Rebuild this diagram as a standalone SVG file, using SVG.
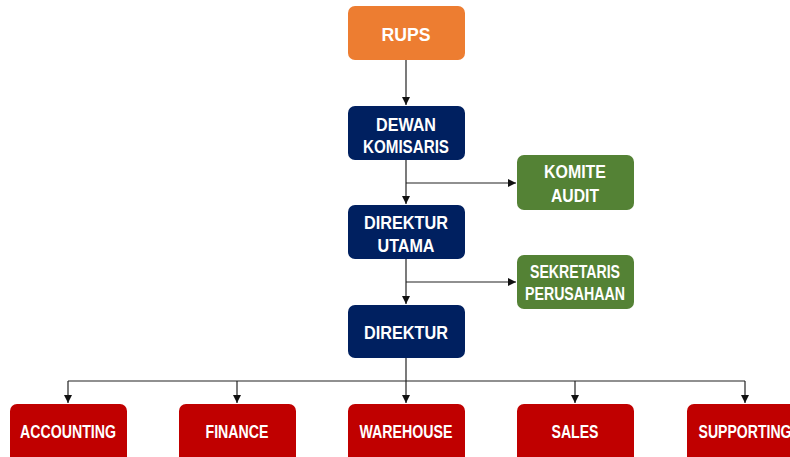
<svg xmlns="http://www.w3.org/2000/svg" width="790" height="457" viewBox="0 0 790 457">
<style>
.t{font-family:"Liberation Sans",Arial,sans-serif;font-weight:bold;font-size:18px;fill:#fff;text-anchor:middle}
.c{fill:none;stroke:#222;stroke-width:1.2}
</style>
<defs>
<marker id="a" viewBox="0 0 10 10" refX="10" refY="5" markerWidth="8" markerHeight="8" markerUnits="userSpaceOnUse" orient="auto">
<path d="M0,0 L10,5 L0,10 z" fill="#111"/>
</marker>
</defs>
<rect width="790" height="457" fill="#fff"/>
<g id="connectors">
<path class="c" d="M406,60 V105" marker-end="url(#a)"/>
<path class="c" d="M406,160 V204" marker-end="url(#a)"/>
<path class="c" d="M406,183 H516" marker-end="url(#a)"/>
<path class="c" d="M406,259 V304" marker-end="url(#a)"/>
<path class="c" d="M406,282 H516" marker-end="url(#a)"/>
<path class="c" d="M406,358 V403" marker-end="url(#a)"/>
<path class="c" d="M68,381 H745"/>
<path class="c" d="M68,381 V403" marker-end="url(#a)"/>
<path class="c" d="M237,381 V403" marker-end="url(#a)"/>
<path class="c" d="M575,381 V403" marker-end="url(#a)"/>
<path class="c" d="M745,381 V403" marker-end="url(#a)"/>
</g>
<g id="rups"><rect x="348" y="6" width="117" height="54" rx="7" fill="#ED7D31"/><text class="t" x="406" y="41" font-size="20" textLength="49" lengthAdjust="spacingAndGlyphs">RUPS</text></g>
<g id="dewan"><rect x="348" y="106" width="117" height="54" rx="7" fill="#002060"/><text class="t" x="406" y="131" textLength="60" lengthAdjust="spacingAndGlyphs">DEWAN</text><text class="t" x="406" y="153" textLength="86" lengthAdjust="spacingAndGlyphs">KOMISARIS</text></g>
<g id="komite"><rect x="517" y="155" width="117" height="55" rx="7" fill="#548235"/><text class="t" x="575" y="178" textLength="62" lengthAdjust="spacingAndGlyphs">KOMITE</text><text class="t" x="575" y="202" textLength="48" lengthAdjust="spacingAndGlyphs">AUDIT</text></g>
<g id="dirut"><rect x="348" y="205" width="117" height="54" rx="7" fill="#002060"/><text class="t" x="406" y="229" textLength="84" lengthAdjust="spacingAndGlyphs">DIREKTUR</text><text class="t" x="406" y="252" textLength="57" lengthAdjust="spacingAndGlyphs">UTAMA</text></g>
<g id="sekretaris"><rect x="517" y="255" width="117" height="54" rx="7" fill="#548235"/><text class="t" x="575" y="278" textLength="90" lengthAdjust="spacingAndGlyphs">SEKRETARIS</text><text class="t" x="575" y="300" textLength="100" lengthAdjust="spacingAndGlyphs">PERUSAHAAN</text></g>
<g id="direktur"><rect x="348" y="305" width="117" height="53" rx="7" fill="#002060"/><text class="t" x="406" y="339" textLength="84" lengthAdjust="spacingAndGlyphs">DIREKTUR</text></g>
<g id="accounting"><rect x="10" y="404" width="117" height="60" rx="7" fill="#C00000"/><text class="t" x="68" y="438" textLength="96" lengthAdjust="spacingAndGlyphs">ACCOUNTING</text></g>
<g id="finance"><rect x="179" y="404" width="117" height="60" rx="7" fill="#C00000"/><text class="t" x="237" y="438" textLength="63" lengthAdjust="spacingAndGlyphs">FINANCE</text></g>
<g id="warehouse"><rect x="348" y="404" width="117" height="60" rx="7" fill="#C00000"/><text class="t" x="406" y="438" textLength="93" lengthAdjust="spacingAndGlyphs">WAREHOUSE</text></g>
<g id="sales"><rect x="517" y="404" width="117" height="60" rx="7" fill="#C00000"/><text class="t" x="575" y="438" textLength="47" lengthAdjust="spacingAndGlyphs">SALES</text></g>
<g id="supporting"><rect x="687" y="404" width="117" height="60" rx="7" fill="#C00000"/><text class="t" x="745" y="438" textLength="93" lengthAdjust="spacingAndGlyphs">SUPPORTING</text></g>
</svg>
